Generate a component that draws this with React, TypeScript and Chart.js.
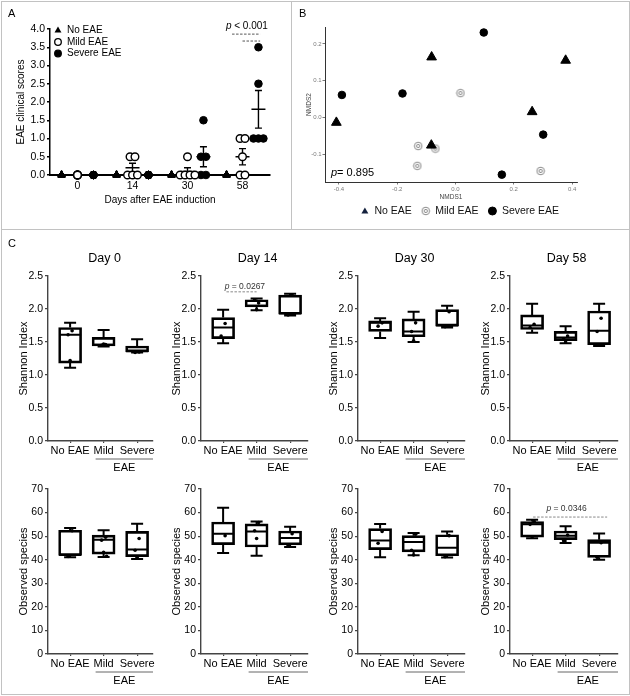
import React, { useEffect, useRef } from "react";
import { Chart, registerables } from "chart.js";

Chart.register(...registerables);

const FONT = '"Liberation Sans", Arial, Helvetica, sans-serif';

// ===== Panel A: EAE clinical scores (5 mice per group) =====
const dayLabels = ["0", "14", "30", "58"];
const groupLabelsA = ["No EAE", "Mild EAE", "Severe EAE"];
const scoreNoEAE = [[0, 0, 0, 0, 0], [0, 0, 0, 0, 0], [0, 0, 0, 0, 0], [0, 0, 0, 0, 0]];
const scoreMild = [[0, 0, 0, 0, 0], [0.5, 0.5, 0, 0, 0], [0.5, 0, 0, 0, 0], [1, 1, 0.5, 0, 0]];
const scoreSevere = [[0, 0, 0, 0, 0], [0, 0, 0, 0, 0], [1.5, 0.5, 0.5, 0, 0], [3.5, 2.5, 1, 1, 1]];
const scoreTicks = [0, 0.5, 1, 1.5, 2, 2.5, 3, 3.5, 4];
const pTextA = " < 0.001";

// ===== Panel B: NMDS =====
const nmdsNoEAEx = [-0.409, -0.082, 0.378, 0.263, -0.083];
const nmdsNoEAEy = [-0.014, 0.164, 0.155, 0.015, -0.076];
const nmdsMildx = [0.017, -0.128, -0.069, -0.131, 0.292];
const nmdsMildy = [0.066, -0.078, -0.085, -0.132, -0.146];
const nmdsSeverex = [-0.39, -0.182, 0.097, 0.301, 0.159];
const nmdsSeverey = [0.061, 0.065, 0.231, -0.047, -0.156];
const nmdsTicksX = [-0.4, -0.2, 0, 0.2, 0.4];
const nmdsTicksY = [-0.1, 0, 0.1, 0.2];
const pTextB = "= 0.895";

// ===== Panel C: box plots =====
const boxGroups = ["No EAE", "Mild", "Severe"];
const dayTitles = ["Day 0", "Day 14", "Day 30", "Day 58"];
const shannonTicks = [0, 0.5, 1, 1.5, 2, 2.5];
const observedTicks = [0, 10, 20, 30, 40, 50, 60, 70];
// [min, q1, median, q3, max] per group (No EAE, Mild, Severe)
const shannonDay0 = [[1.11, 1.18, 1.61, 1.72, 1.79], [1.43, 1.44, 1.46, 1.57, 1.68], [1.34, 1.35, 1.36, 1.44, 1.54]];
const shannonDay14 = [[1.48, 1.55, 1.72, 1.87, 1.99], [1.98, 2.03, 2.05, 2.14, 2.16], [1.9, 1.92, 1.93, 2.21, 2.23]];
const shannonDay30 = [[1.56, 1.66, 1.79, 1.82, 1.86], [1.5, 1.58, 1.66, 1.85, 1.96], [1.72, 1.74, 1.75, 1.99, 2.05]];
const shannonDay58 = [[1.64, 1.69, 1.75, 1.91, 2.08], [1.48, 1.52, 1.57, 1.66, 1.74], [1.44, 1.46, 1.67, 1.97, 2.08]];
const shannonDay0Pts = [[1.67, 1.61, 1.22], [1.46, 1.45, 1.47], [1.35, 1.34]];
const shannonDay14Pts = [[1.78, 1.59], [2.09, 2.14, 1.99], [2.21, 1.91]];
const shannonDay30Pts = [[1.79, 1.74], [1.79, 1.66, 1.52], [1.96, 1.73]];
const shannonDay58Pts = [[1.77, 1.72], [1.59, 1.55, 1.5], [1.86, 1.66, 1.45]];
const observedDay0 = [[41, 41.8, 42, 52.5, 53.5], [41.2, 42.4, 48.5, 50.4, 52.5], [40.3, 41.3, 44.3, 52, 55.3]];
const observedDay14 = [[42.9, 46.4, 51, 56, 62], [41.7, 45.4, 52, 55.2, 56.2], [45.4, 46.3, 49.2, 52.2, 54]];
const observedDay30 = [[41, 44.3, 48.2, 53.2, 55.2], [41.9, 43.3, 47.5, 50.2, 51.3], [40.9, 41.7, 45.1, 50.6, 52]];
const observedDay58 = [[49.1, 49.6, 55, 56.2, 57], [47.1, 48.5, 50.2, 52.2, 54.2], [40, 41, 47.2, 48.5, 51.1]];
const observedDay0Pts = [[52.3, 41.4], [49.5, 48.3, 43.1, 41.5], [49, 44, 41]];
const observedDay14Pts = [[50.2], [55.8, 52.3, 49], [51, 46]];
const observedDay30Pts = [[52, 47], [50.8, 44, 42], [50.2, 41.3]];
const observedDay58Pts = [[56.3, 55, 49.6], [50.5, 48], [47.2, 41]];
const pTextDay14Shannon = " = 0.0267";
const pTextDay58Observed = " = 0.0346";

const shannonStats = [shannonDay0, shannonDay14, shannonDay30, shannonDay58];
const shannonPts = [shannonDay0Pts, shannonDay14Pts, shannonDay30Pts, shannonDay58Pts];
const observedStats = [observedDay0, observedDay14, observedDay30, observedDay58];
const observedPts = [observedDay0Pts, observedDay14Pts, observedDay30Pts, observedDay58Pts];

// ---------- helpers ----------
function mean(a: number[]) {
  return a.reduce((s, v) => s + v, 0) / a.length;
}
function sem(a: number[]) {
  const m = mean(a);
  const sd = Math.sqrt(a.reduce((s, v) => s + (v - m) * (v - m), 0) / (a.length - 1));
  return sd / Math.sqrt(a.length);
}
function spread(vals: number[], step: number) {
  const allSame = vals.every((v) => v === vals[0]);
  return vals.map((v, i) => {
    if (allSame) return 0;
    const n = vals.filter((w) => w === v).length;
    const k = vals.slice(0, i).filter((w) => w === v).length;
    return (k - (n - 1) / 2) * step;
  });
}
function drawTri(ctx: any, x: number, y: number, r: number, color: string) {
  ctx.save();
  ctx.fillStyle = color;
  ctx.beginPath();
  ctx.moveTo(x, y - r);
  ctx.lineTo(x + r * 0.866, y + r * 0.5);
  ctx.lineTo(x - r * 0.866, y + r * 0.5);
  ctx.closePath();
  ctx.fill();
  ctx.restore();
}
function drawCircle(ctx: any, x: number, y: number, r: number, fill: string, stroke: string, lw: number) {
  ctx.save();
  ctx.beginPath();
  ctx.arc(x, y, r, 0, Math.PI * 2);
  ctx.fillStyle = fill;
  ctx.fill();
  ctx.lineWidth = lw;
  ctx.strokeStyle = stroke;
  ctx.stroke();
  ctx.restore();
}
function drawPText(ctx: any, rest: string, x: number, y: number, size: number, align: string, color: string) {
  ctx.save();
  ctx.fillStyle = color;
  ctx.textBaseline = "middle";
  ctx.textAlign = "left";
  const fi = `italic ${size}px ${FONT}`;
  const fn = `${size}px ${FONT}`;
  ctx.font = fi;
  const wp = ctx.measureText("p").width;
  ctx.font = fn;
  const wr = ctx.measureText(rest).width;
  const x0 = align === "center" ? x - (wp + wr) / 2 : x;
  ctx.font = fi;
  ctx.fillText("p", x0, y);
  ctx.font = fn;
  ctx.fillText(rest, x0 + wp, y);
  ctx.restore();
}
function dashedLine(ctx: any, x0: number, x1: number, y: number, color: string) {
  ctx.save();
  ctx.strokeStyle = color;
  ctx.lineWidth = 1;
  ctx.setLineDash([2.5, 1.5]);
  ctx.beginPath();
  ctx.moveTo(x0, y);
  ctx.lineTo(x1, y);
  ctx.stroke();
  ctx.restore();
}

// ---------- Panel A ----------
const A_OFFSETS = [-0.29, 0, 0.29];
const seriesA = [scoreNoEAE, scoreMild, scoreSevere];

function buildA(): any {
  const styles = [
    { pointStyle: "triangle", pointRadius: 4.2, pointBackgroundColor: "#000", pointBorderColor: "#000", pointBorderWidth: 1 },
    { pointStyle: "circle", pointRadius: 3.8, pointBackgroundColor: "#fff", pointBorderColor: "#000", pointBorderWidth: 1.4 },
    { pointStyle: "circle", pointRadius: 3.8, pointBackgroundColor: "#000", pointBorderColor: "#000", pointBorderWidth: 1 },
  ];
  const datasets = seriesA.map((s, g) => ({
    label: groupLabelsA[g],
    data: s.flatMap((vals, d) => {
      const j = spread(vals, 0.09);
      return vals.map((v, k) => ({ x: d + A_OFFSETS[g] + j[k], y: v }));
    }),
    clip: false,
    ...styles[g],
  }));
  const tickFont = { family: FONT, size: 10.5 };
  const titleFont = { family: FONT, size: 10 };
  const plugin = {
    id: "panelA",
    beforeDatasetsDraw(chart: any) {
      const { ctx } = chart;
      const x = chart.scales.x;
      const y = chart.scales.y;
      ctx.save();
      ctx.strokeStyle = "#000";
      ctx.lineWidth = 1.4;
      seriesA.forEach((s, g) =>
        s.forEach((vals, d) => {
          const m = mean(vals);
          const e = sem(vals);
          const px = x.getPixelForValue(d + A_OFFSETS[g]);
          const pm = y.getPixelForValue(m);
          ctx.beginPath();
          ctx.moveTo(px - 7, pm);
          ctx.lineTo(px + 7, pm);
          if (e > 0) {
            const pt = y.getPixelForValue(m + e);
            const pb = y.getPixelForValue(Math.max(0, m - e));
            ctx.moveTo(px, pt);
            ctx.lineTo(px, pb);
            ctx.moveTo(px - 3.5, pt);
            ctx.lineTo(px + 3.5, pt);
            ctx.moveTo(px - 3.5, pb);
            ctx.lineTo(px + 3.5, pb);
          }
          ctx.stroke();
        })
      );
      ctx.restore();
    },
    afterDatasetsDraw(chart: any) {
      const { ctx, chartArea } = chart;
      const x = chart.scales.x;
      const y = chart.scales.y;
      // legend inside the plot, top-left
      ctx.save();
      ctx.font = `10px ${FONT}`;
      ctx.fillStyle = "#000";
      ctx.textBaseline = "middle";
      ctx.textAlign = "left";
      chart.data.datasets.forEach((ds: any, i: number) => {
        const mx = chartArea.left + 8;
        const my = chartArea.top + 1.5 + i * 11.5;
        if (ds.pointStyle === "triangle") drawTri(ctx, mx, my, 4, "#000");
        else drawCircle(ctx, mx, my, 3.3, ds.pointBackgroundColor, "#000", 1.3);
        ctx.fillStyle = "#000";
        ctx.font = `10px ${FONT}`;
        ctx.fillText(ds.label, mx + 9, my);
      });
      ctx.restore();
      // significance
      drawPText(ctx, pTextA, x.getPixelForValue(3.08), y.getPixelForValue(4.08), 10, "center", "#000");
      dashedLine(ctx, x.getPixelForValue(2.81), x.getPixelForValue(3.32), y.getPixelForValue(3.86), "#555");
      dashedLine(ctx, x.getPixelForValue(3.0), x.getPixelForValue(3.32), y.getPixelForValue(3.67), "#555");
    },
  };
  return {
    type: "scatter",
    data: { datasets },
    options: {
      responsive: false,
      animation: false,
      layout: { padding: { top: 29, right: 20, left: 0, bottom: 0 } },
      plugins: { legend: { display: false }, tooltip: { enabled: false } },
      scales: {
        x: {
          type: "linear",
          min: -0.5,
          max: 3.5,
          afterBuildTicks: (s: any) => {
            s.ticks = dayLabels.map((_, i) => ({ value: i }));
          },
          afterFit: (s: any) => {
            s.height = 53;
          },
          ticks: { callback: (v: any) => dayLabels[v] ?? "", font: tickFont, color: "#000", padding: 2, maxRotation: 0, autoSkip: false },
          grid: { drawOnChartArea: false, drawTicks: true, tickLength: 3, color: "#000", lineWidth: 1.5 },
          border: { display: true, color: "#000", width: 2 },
          title: { display: true, text: "Days after EAE induction", font: titleFont, color: "#000", padding: { top: 0, bottom: 22 } },
        },
        y: {
          type: "linear",
          min: 0,
          max: 4,
          afterBuildTicks: (s: any) => {
            s.ticks = scoreTicks.map((v) => ({ value: v }));
          },
          afterFit: (s: any) => {
            s.width = 50;
          },
          ticks: { callback: (v: any) => Number(v).toFixed(1), font: tickFont, color: "#000", padding: 2 },
          grid: { drawOnChartArea: false, drawTicks: true, tickLength: 3, color: "#000", lineWidth: 1.5 },
          border: { display: true, color: "#000", width: 1.5 },
          title: { display: true, text: "EAE clinical scores", font: titleFont, color: "#000", padding: { top: 15, bottom: 0 } },
        },
      },
    },
    plugins: [plugin],
  };
}

// ---------- Panel B ----------
function makeMildMarker() {
  const c = document.createElement("canvas");
  c.width = 10;
  c.height = 10;
  const g = c.getContext("2d") as CanvasRenderingContext2D;
  g.strokeStyle = "#8a8a8a";
  g.fillStyle = "#fff";
  g.lineWidth = 1;
  g.beginPath();
  g.arc(5, 5, 3.8, 0, Math.PI * 2);
  g.fill();
  g.stroke();
  g.beginPath();
  g.arc(5, 5, 1.6, 0, Math.PI * 2);
  g.stroke();
  return c;
}

function buildB(): any {
  const mild = makeMildMarker();
  const zip = (xs: number[], ys: number[]) => xs.map((x, i) => ({ x, y: ys[i] }));
  const datasets = [
    { label: "No EAE", data: zip(nmdsNoEAEx, nmdsNoEAEy), pointStyle: "triangle", pointRadius: 5.6, pointBackgroundColor: "#000", pointBorderColor: "#000", pointBorderWidth: 1 },
    { label: "Mild EAE", data: zip(nmdsMildx, nmdsMildy), pointStyle: mild, pointRadius: 5 },
    { label: "Severe EAE", data: zip(nmdsSeverex, nmdsSeverey), pointStyle: "circle", pointRadius: 3.8, pointBackgroundColor: "#000", pointBorderColor: "#000", pointBorderWidth: 1 },
  ];
  const tickFont = { family: FONT, size: 6 };
  const titleFont = { family: FONT, size: 6.5 };
  const plugin = {
    id: "panelB",
    afterDraw(chart: any) {
      const { ctx, chartArea } = chart;
      drawPText(ctx, pTextB, chartArea.left + 6, chartArea.bottom - 9, 11, "left", "#000");
      // legend below
      ctx.save();
      const size = 10.5;
      ctx.font = `${size}px ${FONT}`;
      const widths = datasets.map((d) => ctx.measureText(d.label).width);
      const total = 4 + widths.reduce((a, b) => a + b, 0) + datasets.length * 9.5 + (datasets.length - 1) * 14;
      let cx = chart.width / 2 - total / 2 + 4;
      const ly = 209;
      datasets.forEach((d, i) => {
        if (i === 0) drawTri(ctx, cx, ly + 0.5, 4, "#14213d");
        else if (i === 1) ctx.drawImage(mild, cx - 5, ly - 5);
        else drawCircle(ctx, cx, ly, 4, "#000", "#000", 1);
        ctx.fillStyle = "#111";
        ctx.font = `${size}px ${FONT}`;
        ctx.textBaseline = "middle";
        ctx.textAlign = "left";
        ctx.fillText(d.label, cx + 9.5, ly);
        cx = cx + 9.5 + widths[i] + 14;
      });
      ctx.restore();
    },
  };
  return {
    type: "scatter",
    data: { datasets },
    options: {
      responsive: false,
      animation: false,
      layout: { padding: { top: 25, right: 51, left: 0, bottom: 0 } },
      plugins: { legend: { display: false }, tooltip: { enabled: false } },
      scales: {
        x: {
          type: "linear",
          min: -0.448,
          max: 0.417,
          afterBuildTicks: (s: any) => {
            s.ticks = nmdsTicksX.map((v) => ({ value: v }));
          },
          afterFit: (s: any) => {
            s.height = 46;
          },
          ticks: { callback: (v: any) => Number(v).toFixed(1), font: tickFont, color: "#7a7a7a", padding: 1, maxRotation: 0, autoSkip: false },
          grid: { drawOnChartArea: false, drawTicks: true, tickLength: 2.5, color: "#555", lineWidth: 0.8 },
          border: { display: true, color: "#333", width: 1 },
          title: { display: true, text: "NMDS1", font: titleFont, color: "#444", padding: { top: 0, bottom: 27 } },
        },
        y: {
          type: "linear",
          min: -0.176,
          max: 0.246,
          afterBuildTicks: (s: any) => {
            s.ticks = nmdsTicksY.map((v) => ({ value: v }));
          },
          afterFit: (s: any) => {
            s.width = 33;
          },
          ticks: { callback: (v: any) => Number(v).toFixed(1), font: tickFont, color: "#7a7a7a", padding: 1 },
          grid: { drawOnChartArea: false, drawTicks: true, tickLength: 2.5, color: "#555", lineWidth: 0.8 },
          border: { display: true, color: "#333", width: 1 },
          title: { display: true, text: "NMDS2", font: titleFont, color: "#444", padding: { top: 13, bottom: 0 } },
        },
      },
    },
    plugins: [plugin],
  };
}

// ---------- Panel C ----------
const COL_AXIS = [48, 201, 358, 510];
const COL_END = [153, 308, 465, 618];
const ROWS = [
  { top: 232, h: 240, cTop: 276, cBottom: 441 },
  { top: 472, h: 222, cTop: 489, cBottom: 654 },
];
const CAT_SPACING = 33.5;
const X_MIN = -0.66;
const JIT = [0.06, -0.06, 0, 0.09, -0.09];

function boxGeom(r: number, c: number) {
  const left = COL_AXIS[c] - 48;
  const width = COL_END[c] + 10 - left;
  return { left, top: ROWS[r].top, width, height: ROWS[r].h };
}

function buildBox(r: number, c: number): any {
  const stats = r === 0 ? shannonStats[c] : observedStats[c];
  const pts = r === 0 ? shannonPts[c] : observedPts[c];
  const ticksY = r === 0 ? shannonTicks : observedTicks;
  const geo = boxGeom(r, c);
  const R = ROWS[r];
  const xMax = X_MIN + (COL_END[c] - COL_AXIS[c]) / CAT_SPACING;
  const datasets = [
    {
      type: "scatter",
      label: "samples",
      data: pts.flatMap((vals, g) => vals.map((v, k) => ({ x: g + JIT[k % JIT.length], y: v }))),
      pointRadius: 1.8,
      pointBackgroundColor: "#000",
      pointBorderWidth: 0,
      order: 0,
    },
    {
      type: "bar",
      label: "IQR",
      data: stats.map((s, g) => ({ x: g, y: [s[1], s[3]] })),
      backgroundColor: "rgba(0,0,0,0)",
      borderColor: "#000",
      borderWidth: 2,
      borderSkipped: false,
      barThickness: 23,
      grouped: false,
      order: 1,
    },
  ];
  const plugin = {
    id: "boxplot",
    beforeDatasetsDraw(chart: any) {
      const { ctx } = chart;
      const x = chart.scales.x;
      const y = chart.scales.y;
      ctx.save();
      ctx.strokeStyle = "#000";
      ctx.lineWidth = 2;
      stats.forEach((s, g) => {
        const px = x.getPixelForValue(g);
        const [mn, q1, md, q3, mx] = s.map((v) => y.getPixelForValue(v));
        ctx.beginPath();
        ctx.moveTo(px, q3);
        ctx.lineTo(px, mx);
        ctx.moveTo(px - 6, mx);
        ctx.lineTo(px + 6, mx);
        ctx.moveTo(px, q1);
        ctx.lineTo(px, mn);
        ctx.moveTo(px - 6, mn);
        ctx.lineTo(px + 6, mn);
        ctx.moveTo(px - 11, md);
        ctx.lineTo(px + 11, md);
        ctx.stroke();
      });
      ctx.restore();
    },
    afterDraw(chart: any) {
      const { ctx, chartArea } = chart;
      const x = chart.scales.x;
      const y = chart.scales.y;
      ctx.save();
      ctx.fillStyle = "#000";
      ctx.textBaseline = "middle";
      ctx.textAlign = "center";
      if (r === 0) {
        ctx.font = `12.5px ${FONT}`;
        ctx.fillText(dayTitles[c], x.getPixelForValue(1) + 1, 27);
      }
      // EAE group bracket
      const ux0 = x.getPixelForValue(1) - 8;
      const ux1 = chartArea.right;
      const uy = chartArea.bottom + 18;
      ctx.strokeStyle = "#666";
      ctx.lineWidth = 1;
      ctx.beginPath();
      ctx.moveTo(ux0, uy);
      ctx.lineTo(ux1, uy);
      ctx.stroke();
      ctx.font = `11px ${FONT}`;
      ctx.fillText("EAE", (ux0 + ux1) / 2, chartArea.bottom + 27);
      ctx.restore();
      if (r === 0 && c === 1) {
        dashedLine(ctx, x.getPixelForValue(0.1), x.getPixelForValue(1.0), y.getPixelForValue(2.26), "#888");
        drawPText(ctx, pTextDay14Shannon, x.getPixelForValue(0.65), y.getPixelForValue(2.34), 8.5, "center", "#333");
      }
      if (r === 1 && c === 3) {
        dashedLine(ctx, x.getPixelForValue(0.03), x.getPixelForValue(2.24), y.getPixelForValue(58.1), "#888");
        drawPText(ctx, pTextDay58Observed, x.getPixelForValue(1.03), y.getPixelForValue(61.5), 8.5, "center", "#333");
      }
    },
  };
  return {
    type: "bar",
    data: { datasets },
    options: {
      responsive: false,
      animation: false,
      layout: { padding: { top: R.cTop - R.top, right: geo.width - (COL_END[c] - geo.left), left: 0, bottom: 0 } },
      plugins: { legend: { display: false }, tooltip: { enabled: false } },
      scales: {
        x: {
          type: "linear",
          offset: false,
          min: X_MIN,
          max: xMax,
          afterBuildTicks: (s: any) => {
            s.ticks = boxGroups.map((_, i) => ({ value: i }));
          },
          afterFit: (s: any) => {
            s.height = R.h - (R.cBottom - R.top);
          },
          ticks: { callback: (v: any) => boxGroups[v] ?? "", font: { family: FONT, size: 11 }, color: "#000", padding: 1, maxRotation: 0, autoSkip: false },
          grid: { offset: false, drawOnChartArea: false, drawTicks: true, tickLength: 2, color: "#444", lineWidth: 1.2 },
          border: { display: true, color: "#444", width: 1.4 },
        },
        y: {
          type: "linear",
          min: 0,
          max: ticksY[ticksY.length - 1],
          afterBuildTicks: (s: any) => {
            s.ticks = ticksY.map((v) => ({ value: v }));
          },
          afterFit: (s: any) => {
            s.width = 48;
          },
          ticks: { callback: (v: any) => (r === 0 ? Number(v).toFixed(1) : String(v)), font: { family: FONT, size: 10.5 }, color: "#000", padding: 2 },
          grid: { drawOnChartArea: false, drawTicks: true, tickLength: 3, color: "#444", lineWidth: 1.2 },
          border: { display: true, color: "#444", width: 1.4 },
          title: { display: true, text: r === 0 ? "Shannon Index" : "Observed species", font: { family: FONT, size: 11 }, color: "#000", padding: { top: 17, bottom: 0 } },
        },
      },
    },
    plugins: [plugin],
  };
}

// ---------- components ----------
function ChartCanvas({ left, top, width, height, build }: any) {
  const ref = useRef<HTMLCanvasElement | null>(null);
  useEffect(() => {
    const chart = new Chart(ref.current as HTMLCanvasElement, build());
    return () => chart.destroy();
  }, []);
  return (
    <canvas
      ref={ref}
      width={width}
      height={height}
      style={{ position: "absolute", left, top, width, height, display: "block" }}
    />
  );
}

const lineColor = "#c2c2c2";

export default function App() {
  const boxes: any[] = [];
  [0, 1].forEach((r) =>
    [0, 1, 2, 3].forEach((c) => {
      const g = boxGeom(r, c);
      boxes.push(<ChartCanvas key={`b${r}${c}`} {...g} build={() => buildBox(r, c)} />);
    })
  );
  const letter = (t: string, left: number, top: number) => (
    <div style={{ position: "absolute", left, top, font: `11px ${FONT}`, color: "#000", lineHeight: "12px" }}>{t}</div>
  );
  return (
    <div style={{ position: "absolute", left: 0, top: 0, width: 630, height: 696, background: "#fff", overflow: "hidden" }}>
      <ChartCanvas left={0} top={0} width={290} height={228} build={buildA} />
      <ChartCanvas left={292} top={2} width={336} height={226} build={buildB} />
      {boxes}
      <div style={{ position: "absolute", left: 1, top: 1, width: 629, height: 694, border: `1px solid ${lineColor}`, boxSizing: "border-box", pointerEvents: "none" }} />
      <div style={{ position: "absolute", left: 291, top: 1, width: 1, height: 228, background: lineColor }} />
      <div style={{ position: "absolute", left: 1, top: 229, width: 628, height: 1, background: lineColor }} />
      {letter("A", 8, 7)}
      {letter("B", 299, 7)}
      {letter("C", 8, 237)}
    </div>
  );
}
